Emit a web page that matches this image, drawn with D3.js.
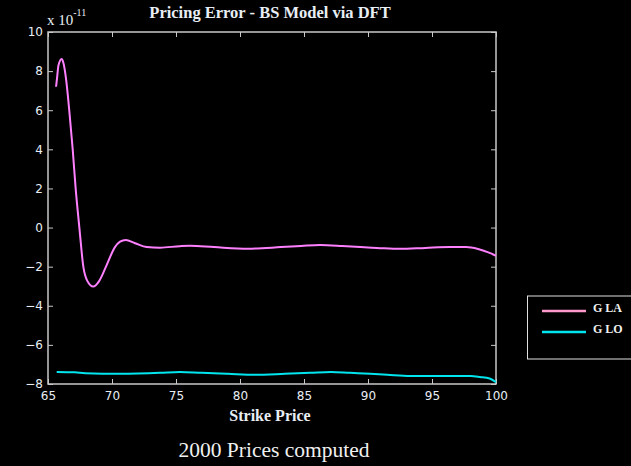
<!DOCTYPE html>
<html>
<head>
<meta charset="utf-8">
<script src="https://cdn.jsdelivr.net/npm/d3@7"></script>
<style>
  html, body { margin: 0; padding: 0; background: #000; }
  svg { display: block; }
</style>
</head>
<body>
<svg id="chart" width="631" height="466"></svg>
<script>
// ---- Data (values in units of 1e-11) ----
const xTicks = [65, 70, 75, 80, 85, 90, 95, 100];
const yTicks = [-8, -6, -4, -2, 0, 2, 4, 6, 8, 10];
const seriesNames = ["G LA", "G LO"];

const glaStrike = [65.63, 65.70, 65.82, 66.07, 66.21, 66.41, 66.66, 66.93, 67.16, 67.45, 67.76, 68.05, 68.54, 68.98, 69.53, 70.23, 70.63, 71.07, 71.80, 72.71, 73.75, 75.30, 76.10, 77.97, 80.60, 83.20, 84.77, 86.25, 87.97, 89.40, 90.70, 92.50, 94.50, 96.40, 97.66, 98.60, 99.40, 100.0];
const glaValue  = [7.20, 7.60, 8.30, 8.62, 8.40, 7.60, 6.00, 4.00, 2.00, 0.00, -2.00, -2.70, -3.02, -2.75, -2.00, -1.00, -0.72, -0.63, -0.80, -1.00, -1.03, -0.95, -0.93, -1.00, -1.08, -1.00, -0.94, -0.89, -0.94, -1.00, -1.04, -1.09, -1.04, -1.00, -1.00, -1.10, -1.27, -1.44];

const gloStrike = [65.68, 67.10, 67.90, 70.60, 73.75, 75.30, 77.00, 79.06, 81.17, 83.50, 85.47, 87.10, 88.60, 90.16, 91.50, 93.30, 98.00, 98.75, 99.50, 100.0];
const gloValue  = [-7.38, -7.40, -7.45, -7.48, -7.43, -7.38, -7.43, -7.48, -7.53, -7.48, -7.43, -7.38, -7.43, -7.48, -7.53, -7.59, -7.59, -7.64, -7.72, -7.90];

const colors = ["#ff80ff", "#00e5ee"];
const legendColors = ["#ff99cc", "#00e5ee"];

// ---- Layout ----
const svg = d3.select("#chart");
const L = 48, R = 496, T = 32, B = 384;
const x = d3.scaleLinear().domain([65, 100]).range([L, R]);
const y = d3.scaleLinear().domain([-8, 10]).range([B, T]);

const axisColor = "#c8c8c8";
const textColor = "#e8eef4";
const serif = "'Liberation Serif', 'DejaVu Serif', serif";

svg.append("rect").attr("width", 631).attr("height", 466).attr("fill", "#000");

function styleAxis(g) {
  g.select(".domain").remove();
  g.selectAll(".tick line").attr("stroke", axisColor).attr("stroke-width", 1);
  g.selectAll(".tick text").attr("fill", textColor)
    .attr("font-family", "'DejaVu Sans', sans-serif").attr("font-size", 12);
}

// bottom axis (ticks inward)
svg.append("g").attr("transform", `translate(0,${B})`)
  .call(d3.axisBottom(x).tickValues(xTicks).tickSize(-5).tickPadding(7).tickFormat(d3.format("d")))
  .call(styleAxis)
  .call(g => g.selectAll(".tick text").attr("dy", "0.71em"));
// top axis (ticks only)
svg.append("g").attr("transform", `translate(0,${T})`)
  .call(d3.axisTop(x).tickValues(xTicks).tickSize(-5).tickFormat(""))
  .call(styleAxis);
// left axis
svg.append("g").attr("transform", `translate(${L},0)`)
  .call(d3.axisLeft(y).tickValues(yTicks).tickSize(-5).tickPadding(5).tickFormat(d3.format("d")))
  .call(styleAxis);
// right axis
svg.append("g").attr("transform", `translate(${R},0)`)
  .call(d3.axisRight(y).tickValues(yTicks).tickSize(-5).tickFormat(""))
  .call(styleAxis);

// frame
svg.append("rect").attr("x", L).attr("y", T).attr("width", R - L).attr("height", B - T)
  .attr("fill", "none").attr("stroke", axisColor).attr("stroke-width", 1.5);

// lines
const line = d3.line().x(d => x(d[0])).y(d => y(d[1])).curve(d3.curveMonotoneX);
const series = [
  d3.zip(glaStrike, glaValue),
  d3.zip(gloStrike, gloValue)
];
series.forEach((s, i) => {
  svg.append("path").datum(s).attr("d", line)
    .attr("fill", "none").attr("stroke", colors[i]).attr("stroke-width", 2)
    .attr("stroke-linejoin", "round");
});

// exponent label
const ex = svg.append("text").attr("x", 47).attr("y", 25)
  .attr("fill", textColor).attr("font-family", serif).attr("font-size", 15);
ex.append("tspan").text("x 10");
ex.append("tspan").attr("dy", -9).attr("font-size", 10).text("-11");

// title
svg.append("text").attr("x", 270).attr("y", 18).attr("text-anchor", "middle")
  .attr("fill", textColor).attr("font-family", serif)
  .attr("font-weight", "bold").attr("font-size", 16.5)
  .text("Pricing Error - BS Model via DFT");

// x label
svg.append("text").attr("x", 270).attr("y", 421).attr("text-anchor", "middle")
  .attr("fill", textColor).attr("font-family", serif)
  .attr("font-weight", "bold").attr("font-size", 16)
  .text("Strike Price");

// footer
svg.append("text").attr("x", 274).attr("y", 457).attr("text-anchor", "middle")
  .attr("fill", "#f0f0f0").attr("font-family", serif)
  .attr("font-size", 21.5)
  .text("2000 Prices computed");

// legend
const lg = svg.append("g");
lg.append("rect").attr("x", 527.5).attr("y", 296).attr("width", 110).attr("height", 63)
  .attr("fill", "#000").attr("stroke", "#e0e0e0").attr("stroke-width", 1);
const legendY = [311, 332];
seriesNames.forEach((n, i) => {
  lg.append("line").attr("x1", 542).attr("x2", 586).attr("y1", legendY[i]).attr("y2", legendY[i])
    .attr("stroke", legendColors[i]).attr("stroke-width", 2.5);
  lg.append("text").attr("x", 593).attr("y", legendY[i] + 1).attr("fill", "#f0f0f0")
    .attr("font-family", serif).attr("font-weight", "bold")
    .attr("font-size", 12).text(n);
});
</script>
</body>
</html>
